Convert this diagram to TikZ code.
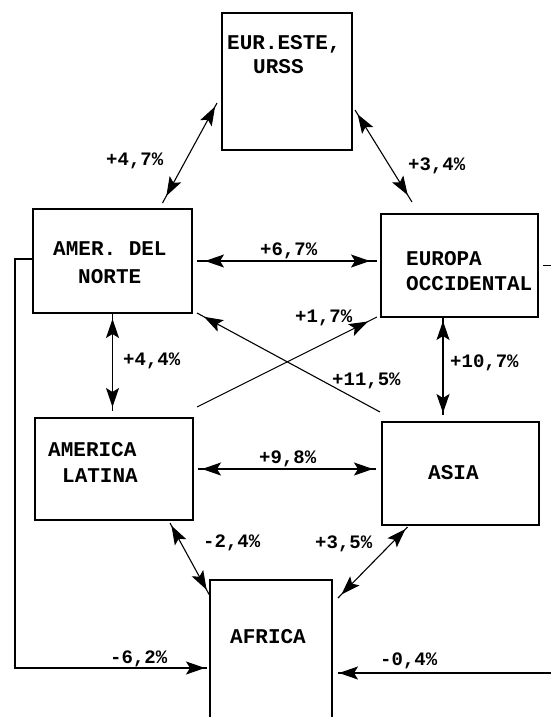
\documentclass[tikz,border=0pt]{standalone}
\usepackage{fontspec}
\setmainfont{Liberation Mono}
\usetikzlibrary{arrows.meta,decorations.markings}
\begin{document}
\begin{tikzpicture}[x=1pt,y=-1pt,
  regbox/.style={draw,line width=1.3pt,inner sep=0pt,outer sep=0pt},
  conn/.style={line width=1.1pt},
  >={Stealth[length=19pt,width=13pt,inset=4pt]},
  dbl/.style 2 args={postaction={decorate,decoration={markings,
     mark=at position #1 with {\arrowreversed{>}},
     mark=at position -#2 with {\arrow{>}}}}},
  fwd/.style={postaction={decorate,decoration={markings,
     mark=at position -#1 with {\arrow{>}}}}},
  lbl/.style={anchor=base west,inner sep=0pt,font=\fontsize{19}{19}\selectfont\bfseries},
  txt/.style={anchor=base west,inner sep=0pt,font=\fontsize{21}{21}\selectfont\bfseries}]
\useasboundingbox (0,0) rectangle (551,721);

% boxes
\node[regbox,minimum width=130pt,minimum height=137pt] (eur) at (287,81.5) {};
\node[regbox,minimum width=159pt,minimum height=104pt] (amer) at (112.5,261) {};
\node[regbox,minimum width=157pt,minimum height=103pt] (euro) at (459.5,265.5) {};
\node[regbox,minimum width=158pt,minimum height=102pt] (lat) at (114,469) {};
\node[regbox,minimum width=157pt,minimum height=103pt] (asia) at (460.5,473.5) {};
\node[inner sep=0pt,outer sep=0pt,minimum width=122pt,minimum height=137pt] (afr) at (271,648.5) {};
\draw[line width=1.3pt] (afr.south west) |- (afr.north east) -- (afr.south east);

% box texts
\node[txt] (t1) at (227,49) {EUR.ESTE,};
\node[txt] (t2) at (253,73) {URSS};
\node[txt] (t3) at (53,255) {AMER. DEL};
\node[txt] (t4) at (78,283) {NORTE};
\node[txt] (t5) at (406,265) {EUROPA};
\node[txt] (t6) at (406,290) {OCCIDENTAL};
\node[txt] (t7) at (48,456) {AMERICA};
\node[txt] (t8) at (62,482) {LATINA};
\node[txt] (t9) at (428,479) {ASIA};
\node[txt] (t10) at (230,643) {AFRICA};

% helper coordinates
\coordinate (ae) at (amer.east -| euro.west);
\coordinate (la) at (lat.east -| asia.west);
\coordinate (al) at (amer.south |- lat.north);
\coordinate (re) at (551,673);
\coordinate (re2) at (re -| afr.east);
\coordinate (re3) at (551,265.5);

% connectors
\draw[conn,dbl={8pt}{4pt}] ([xshift=50pt,yshift=6pt]amer.north) -- ([xshift=-5pt,yshift=-21.5pt]eur.west);
\draw[conn,dbl={5pt}{8pt}] ([xshift=3pt,yshift=-28.5pt]eur.east) -- ([xshift=-47.5pt,yshift=12pt]euro.north);
\draw[conn,dbl={8pt}{7pt}] ([xshift=5pt]amer.east) -- ([xshift=-4pt]ae);
\draw[conn,dbl={4pt}{3pt}] ([xshift=5pt]lat.east) -- ([xshift=-6pt]la);
\draw[conn,dbl={5pt}{4pt}] ([yshift=-1pt]amer.south) -- ([yshift=7pt]al);
\draw[conn,dbl={3pt}{2pt}] ([xshift=-16.5pt,yshift=-1pt]euro.south) -- ([xshift=-17.5pt,yshift=7pt]asia.north);
\draw[conn,fwd=8pt] ([xshift=-2pt,yshift=10pt]asia.north west) -- ([xshift=5pt]amer.south east);
\draw[conn,fwd=10pt] ([xshift=4pt,yshift=11pt]lat.north east) -- ([xshift=-4pt]euro.south west);
\draw[conn,dbl={3pt}{7pt}] ([xshift=56pt,yshift=-3pt]lat.south) -- ([yshift=-16pt]afr.north west);
\draw[conn,dbl={3pt}{5pt}] ([xshift=-53pt,yshift=-2pt]asia.south) -- ([xshift=6pt,yshift=-18pt]afr.north east);
\draw[conn,fwd=2pt] ([yshift=2pt]amer.west) -- ++(-18,0) |- ([xshift=-3pt,yshift=-19.5pt]afr.west);
\draw[conn,fwd=1pt] (re) -- ([xshift=6pt]re2);
\draw[conn] ([xshift=5pt]euro.east) -- (re3);

% labels
\node[lbl] (l1) at (106,165) {+4,7\%};
\node[lbl] (l2) at (408,170) {+3,4\%};
\node[lbl] (l3) at (260,255) {+6,7\%};
\node[lbl] (l4) at (123,365) {+4,4\%};
\node[lbl] (l5) at (295,322) {+1,7\%};
\node[lbl] (l6) at (332,385) {+11,5\%};
\node[lbl] (l7) at (450,367) {+10,7\%};
\node[lbl] (l8) at (259,463) {+9,8\%};
\node[lbl] (l9) at (203,547) {-2,4\%};
\node[lbl] (l10) at (315,548) {+3,5\%};
\node[lbl] (l11) at (110,663) {-6,2\%};
\node[lbl] (l12) at (380,665) {-0,4\%};
\end{tikzpicture}
\end{document}
